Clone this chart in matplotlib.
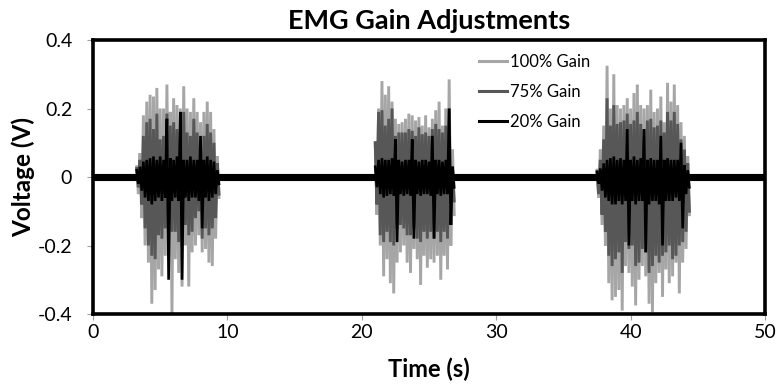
import numpy as np
import matplotlib
matplotlib.use("Agg")
import matplotlib.pyplot as plt

plt.rcParams['font.family'] = ['Lato', 'DejaVu Sans']

# Muscle-activation bursts: start time (s) and number of envelope samples
burst_start = [3.25, 21.0, 37.5]
burst_samples = [25, 24, 28]
sample_step = 0.25  # s between envelope samples

# Positive / negative peak voltage (V) of each sample, bursts concatenated
gain100_hi = [0.03, 0.07, 0.18, 0.22, 0.24, 0.235, 0.26, 0.2, 0.2, 0.27, 0.19, 0.23, 0.21, 0.2, 0.265, 0.2, 0.19, 0.23, 0.19, 0.16, 0.19, 0.22, 0.19, 0.14, 0.06,
              0.1, 0.2, 0.28, 0.24, 0.265, 0.22, 0.17, 0.155, 0.16, 0.17, 0.185, 0.18, 0.165, 0.175, 0.15, 0.18, 0.145, 0.17, 0.195, 0.22, 0.15, 0.2, 0.285, 0.08,
              0.02, 0.08, 0.15, 0.325, 0.2, 0.3, 0.21, 0.2, 0.21, 0.23, 0.2, 0.245, 0.27, 0.21, 0.2, 0.21, 0.255, 0.19, 0.2, 0.235, 0.16, 0.275, 0.22, 0.27, 0.21, 0.16, 0.12, 0.06]
gain100_lo = [-0.05, -0.12, -0.2, -0.25, -0.37, -0.33, -0.27, -0.29, -0.23, -0.2, -0.4, -0.24, -0.28, -0.32, -0.2, -0.32, -0.22, -0.2, -0.17, -0.22, -0.21, -0.25, -0.26, -0.18, -0.06,
              -0.11, -0.2, -0.29, -0.24, -0.31, -0.34, -0.25, -0.22, -0.2, -0.25, -0.28, -0.21, -0.24, -0.315, -0.23, -0.265, -0.24, -0.25, -0.23, -0.3, -0.23, -0.27, -0.2, -0.11,
              -0.06, -0.14, -0.2, -0.31, -0.36, -0.35, -0.33, -0.39, -0.26, -0.28, -0.32, -0.375, -0.3, -0.26, -0.29, -0.37, -0.395, -0.31, -0.28, -0.35, -0.27, -0.31, -0.29, -0.25, -0.34, -0.25, -0.21, -0.11]

gain75_hi = [0.025, 0.05, 0.12, 0.16, 0.17, 0.14, 0.185, 0.11, 0.12, 0.185, 0.15, 0.16, 0.14, 0.13, 0.19, 0.13, 0.12, 0.17, 0.13, 0.1, 0.12, 0.155, 0.13, 0.1, 0.04,
             0.1, 0.19, 0.195, 0.15, 0.17, 0.2, 0.12, 0.13, 0.13, 0.13, 0.14, 0.135, 0.12, 0.145, 0.125, 0.13, 0.12, 0.14, 0.155, 0.14, 0.13, 0.15, 0.2, 0.03,
             0.015, 0.05, 0.11, 0.23, 0.15, 0.21, 0.155, 0.16, 0.165, 0.185, 0.155, 0.165, 0.19, 0.155, 0.14, 0.165, 0.17, 0.145, 0.15, 0.165, 0.13, 0.19, 0.165, 0.19, 0.155, 0.11, 0.08, 0.04]
gain75_lo = [-0.03, -0.08, -0.15, -0.2, -0.23, -0.24, -0.17, -0.18, -0.15, -0.14, -0.16, -0.16, -0.19, -0.2, -0.14, -0.17, -0.16, -0.12, -0.1, -0.18, -0.15, -0.17, -0.15, -0.12, -0.05,
             -0.08, -0.17, -0.19, -0.16, -0.19, -0.2, -0.15, -0.14, -0.15, -0.17, -0.17, -0.15, -0.18, -0.19, -0.16, -0.18, -0.16, -0.18, -0.16, -0.19, -0.16, -0.18, -0.14, -0.07,
             -0.05, -0.11, -0.16, -0.23, -0.26, -0.24, -0.22, -0.28, -0.19, -0.21, -0.2, -0.26, -0.25, -0.21, -0.22, -0.28, -0.26, -0.23, -0.25, -0.23, -0.22, -0.2, -0.24, -0.23, -0.2, -0.19, -0.16, -0.1]

gain20_hi = [0.02, 0.03, 0.045, 0.05, 0.055, 0.06, 0.05, 0.06, 0.05, 0.17, 0.055, 0.05, 0.06, 0.19, 0.05, 0.05, 0.06, 0.05, 0.05, 0.12, 0.05, 0.06, 0.05, 0.045, 0.02,
             0.03, 0.05, 0.055, 0.05, 0.05, 0.055, 0.11, 0.05, 0.045, 0.05, 0.05, 0.11, 0.05, 0.045, 0.05, 0.05, 0.045, 0.12, 0.05, 0.05, 0.045, 0.05, 0.2, 0.03,
             0.015, 0.025, 0.04, 0.05, 0.055, 0.06, 0.05, 0.055, 0.05, 0.14, 0.05, 0.06, 0.05, 0.055, 0.14, 0.05, 0.055, 0.05, 0.05, 0.12, 0.05, 0.055, 0.05, 0.05, 0.05, 0.1, 0.035, 0.02]
gain20_lo = [-0.02, -0.04, -0.06, -0.07, -0.08, -0.07, -0.06, -0.07, -0.06, -0.3, -0.07, -0.06, -0.07, -0.3, -0.06, -0.07, -0.06, -0.06, -0.07, -0.15, -0.06, -0.07, -0.06, -0.05, -0.02,
             -0.03, -0.05, -0.06, -0.055, -0.05, -0.055, -0.19, -0.05, -0.055, -0.05, -0.055, -0.18, -0.05, -0.055, -0.05, -0.05, -0.055, -0.18, -0.05, -0.055, -0.05, -0.05, -0.14, -0.03,
             -0.02, -0.04, -0.06, -0.07, -0.08, -0.08, -0.07, -0.08, -0.07, -0.2, -0.07, -0.08, -0.07, -0.07, -0.22, -0.08, -0.07, -0.07, -0.08, -0.2, -0.07, -0.07, -0.07, -0.06, -0.07, -0.15, -0.05, -0.03]

# Resting noise band (V) between bursts
rest_t = [0, 50]
rest_hi = [0.009, 0.009]
rest_lo = [-0.009, -0.009]

series_labels = ['100% Gain', '75% Gain', '20% Gain']
series_colors = ['#a6a6a6', '#575757', '#000000']
series_widths = [2.1, 2.1, 1.9]
x_ticks = [0, 10, 20, 30, 40, 50]
y_ticks = [-0.4, -0.2, 0, 0.2, 0.4]
y_tick_labels = ['-0.4', '-0.2', '0', '0.2', '0.4']


def zigzag(hi, lo):
    """Alternate each sample between its positive and negative peak."""
    xs, ys = [], []
    k = 0
    for start, n in zip(burst_start, burst_samples):
        bx, by = [], []
        for i in range(n):
            t = start + i * sample_step
            bx += [t, t + sample_step / 2]
            by += [hi[k], lo[k]]
            k += 1
        xs.append(bx)
        ys.append(by)
    return xs, ys


fig = plt.figure(figsize=(7.76, 3.91), dpi=100)
ax = fig.add_axes([93 / 776, 1 - 314 / 391, 672 / 776, 274 / 391])

handles = []
for (hi, lo), color, lw, label in zip([(gain100_hi, gain100_lo), (gain75_hi, gain75_lo), (gain20_hi, gain20_lo)],
                                      series_colors, series_widths, series_labels):
    xs, ys = zigzag(hi, lo)
    for bx, by in zip(xs, ys):
        ln, = ax.plot(bx, by, color=color, lw=lw, solid_joinstyle='miter')
    ln.set_label(label)
    handles.append(ln)

ax.fill_between(rest_t, rest_lo, rest_hi, color='black', lw=0.8, zorder=3)

ax.set_xlim(0, 50)
ax.set_ylim(-0.4, 0.4)
ax.set_xticks(x_ticks)
ax.set_yticks(y_ticks)
ax.set_yticklabels(y_tick_labels)
ax.tick_params(axis='both', direction='out', length=4, width=0.8, color='#a0a0a0',
               labelsize=14)
ax.tick_params(axis='y', pad=11)
ax.tick_params(axis='x', pad=3)
for s in ax.spines.values():
    s.set_linewidth(2.6)
    s.set_color('black')
    s.set_zorder(5)

ax.set_title('EMG Gain Adjustments', fontsize=19.5, fontweight='bold', pad=8)
ax.set_xlabel('Time (s)', fontsize=17, fontweight='bold', labelpad=12)
ax.set_ylabel('Voltage (V)', fontsize=17.5, fontweight='bold', labelpad=2)

leg = ax.legend(handles=handles, loc='upper left', bbox_to_anchor=(0.564, 0.975),
                frameon=False, fontsize=12, handlelength=1.7, handletextpad=0.15,
                labelspacing=0.85, borderaxespad=0)
for h in leg.get_lines():
    h.set_linewidth(2.2)

fig.savefig('out.png', dpi=100)
